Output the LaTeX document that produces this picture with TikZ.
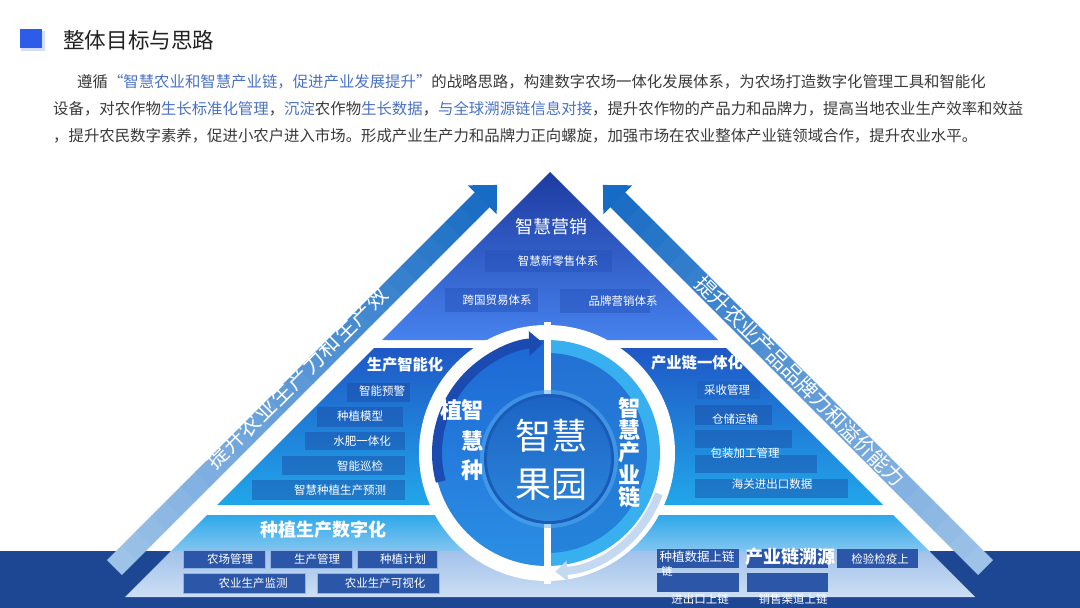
\documentclass[tikz,border=0pt]{standalone}
\usepackage{fontspec}
\setmainfont{Noto Sans CJK SC}
\usetikzlibrary{arrows.meta}
\definecolor{sq}{HTML}{2D5DE8}
\definecolor{ttl}{HTML}{222222}
\definecolor{para}{HTML}{3A3A3A}
\definecolor{lnk}{HTML}{4A72C4}
\definecolor{navy}{HTML}{1E4793}
\definecolor{topT}{HTML}{1D3BA0}
\definecolor{topB}{HTML}{4782EE}
\definecolor{midT}{HTML}{1F58C6}
\definecolor{midB}{HTML}{21A6EA}
\definecolor{botTa}{HTML}{2EA8EA}
\definecolor{botBa}{HTML}{84C6F0}
\definecolor{botTb}{HTML}{A2C1EA}
\definecolor{botBb}{HTML}{CCDFF4}
\definecolor{bandP}{HTML}{9EC3E8}
\definecolor{bandD}{HTML}{166BC4}
\definecolor{leftT}{HTML}{1D68D4}
\definecolor{leftB}{HTML}{2B8FE4}
\definecolor{cyanB}{HTML}{38B0F0}
\definecolor{rinT}{HTML}{2472D4}
\definecolor{rinB}{HTML}{2483DA}
\definecolor{arrD}{HTML}{1B4BB0}
\definecolor{paleA}{HTML}{C4D8F0}
\definecolor{icBord}{HTML}{1A5AB8}
\definecolor{icT}{HTML}{1D64C4}
\definecolor{icB}{HTML}{2B86DA}
\definecolor{icGlow}{HTML}{5AB0F0}
\definecolor{boxT}{HTML}{2450B8}
\definecolor{boxM}{HTML}{1B4AA4}
\definecolor{boxB}{HTML}{2C57A8}
\definecolor{boxBd}{HTML}{8FB3E3}
\newcommand{\fsz}[1]{\fontsize{#1pt}{#1pt}\selectfont}
\newcommand{\bandbody}{%
  \foreach \i in {0,...,24}{%
    \pgfmathsetmacro\ua{\i*20.82}%
    \pgfmathsetmacro\ub{\ua+21.5}%
    \pgfmathtruncatemacro\pc{\i*4}%
    \fill[bandD!\pc!bandP] (\ua,-10.5) rectangle (\ub,10.5);}%
  \fill[bandD] (520,-20.5) -- (541,0) -- (520,20.5) -- cycle;}
\tikzset{
  paraline/.style={anchor=west, inner sep=0pt, font=\fsz{15.4}, text=para},
  itm/.style={text=white, font=\fsz{11.5}, inner sep=0pt},
  sectb/.style={text=white, font=\bfseries\fsz{#1}, inner sep=0pt},
  sectr/.style={text=white, font=\fsz{#1}, inner sep=0pt},
  boxtop/.style={fill=boxT, fill opacity=0.45},
  boxmid/.style={fill=boxM, fill opacity=0.45},
  boxbot/.style={fill=boxB, draw=boxBd, line width=0.6pt},
  bandtxt/.style={text=white, inner sep=0pt}
}
\begin{document}
\begin{tikzpicture}[x=1pt,y=-1pt]
\useasboundingbox (0,0) rectangle (1080,608);
\fill[white] (0,0) rectangle (1080,608);

% title
\fill[sq!35, opacity=0.6] (21,31) rectangle (45,51);
\fill[sq] (20,29) rectangle (42,48);
\node[anchor=west, inner sep=0pt, font=\fsz{21.6}, text=ttl] (title) at (63,40) {整体目标与思路};

% paragraph
\node[paraline] (p1) at (77,82) {遵循\textcolor{lnk}{\makebox[1em][r]{“}智慧农业和智慧产业链，促进产业发展提升\makebox[1em][l]{”}}的战略思路，构建数字农场一体化发展体系，为农场打造数字化管理工具和智能化};
\node[paraline] (p2) at (53,109) {设备，对农作物\textcolor{lnk}{生长标准化管理}，\textcolor{lnk}{沉淀}农作物\textcolor{lnk}{生长数据}，\textcolor{lnk}{与全球溯源链信息对接}，提升农作物的产品力和品牌力，提高当地农业生产效率和效益};
\node[paraline] (p3) at (53,136) {，提升农民数字素养，促进小农户进入市场。形成产业生产力和品牌力正向螺旋，加强市场在农业整体产业链领域合作，提升农业水平。};

% navy band
\fill[navy] (0,551) rectangle (1080,608);

% arrow bands
\begin{scope}[shift={(114.5,567.5)}, rotate=45]
  \bandbody
\end{scope}
\begin{scope}[shift={(985.5,567.5)}, rotate=135]
  \bandbody
\end{scope}
\foreach \ch [count=\n from 0] in {提,升,农,业,生,产,力,和,生,产,效}
  \node[bandtxt, font=\fsz{21.5}, rotate=45] (lb\n) at ({297+(\n-5)*15.9},{378-(\n-5)*15.9}) {\ch};
\foreach \ch [count=\n from 0] in {提,升,农,业,产,品,品,牌,力,和,溢,价,能,力}
  \node[bandtxt, font=\fsz{20.5}, rotate=-45] (rb\n) at ({800+(\n-6.5)*14.5},{381+(\n-6.5)*14.5}) {\ch};

% pyramid sections
\shade[top color=topT, bottom color=topB] (550,172) -- (718,340) -- (382,340) -- cycle;
\shade[top color=midT, bottom color=midB] (374,348) -- (726,348) -- (883,505) -- (217,505) -- cycle;
\begin{scope}
  \clip (207,515) -- (893,515) -- (975,597) -- (125,597) -- cycle;
  \shade[top color=botTa, bottom color=botBa] (100,515) rectangle (1000,551.5);
  \shade[top color=botTb, bottom color=botBb] (100,551) rectangle (1000,597);
\end{scope}

% top section
\node[sectr=18] (smkt) at (551,227) {智慧营销};
\fill[boxtop] (485,250) rectangle (612,272);
\fill[boxtop] (445,288) rectangle (538,312);
\fill[boxtop] (560,289) rectangle (650,313);
\node[itm] (t1) at (558,261) {智慧新零售体系};
\node[itm] (t2) at (497,300) {跨国贸易体系};
\node[itm] (t3) at (623,301) {品牌营销体系};

% middle left
\node[sectb=15.3] (sprod) at (405,365) {生产智能化};
\fill[boxmid] (347,383) rectangle (410,402);
\fill[boxmid] (317,407) rectangle (403,427);
\fill[boxmid] (305,432) rectangle (405,450);
\fill[boxmid] (282,456) rectangle (405,475);
\fill[boxmid] (252,480) rectangle (405,500);
\node[itm] (m1) at (382,391) {智能预警};
\node[itm] (m2) at (360,416) {种植模型};
\node[itm] (m3) at (362,441) {水肥一体化};
\node[itm] (m4) at (360,466) {智能巡检};
\node[itm] (m5) at (340,490) {智慧种植生产预测};

% middle right
\node[sectb=15.3] (schain) at (697,363) {产业链一体化};
\fill[boxmid, fill opacity=0.2] (697,381) rectangle (760,399);
\fill[boxmid] (695,405) rectangle (772,425);
\fill[boxmid] (695,430) rectangle (792,448);
\fill[boxmid] (695,455) rectangle (817,473);
\fill[boxmid] (695,479) rectangle (848,498);
\node[itm] (r1) at (727,390) {采收管理};
\node[itm] (r2) at (735,419) {仓储运输};
\node[itm] (r3) at (745,453) {包装加工管理};
\node[itm] (r4) at (772,484) {海关进出口数据};

% bottom left
\node[sectb=18] (sdig) at (323,530) {种植生产数字化};
\fill[boxbot] (183,550) rectangle (265,568);
\fill[boxbot] (270,550) rectangle (352,568);
\fill[boxbot] (357,550) rectangle (437,568);
\fill[boxbot] (183,573) rectangle (305,593);
\fill[boxbot] (317,573) rectangle (439,593);
\node[itm] (b1) at (230,559) {农场管理};
\node[itm] (b2) at (317,559) {生产管理};
\node[itm] (b3) at (403,559) {种植计划};
\node[itm] (b4) at (253,583) {农业生产监测};
\node[itm] (b5) at (385,583) {农业生产可视化};

% bottom right
\fill[boxbot, draw=none] (657,549) rectangle (739,568);
\fill[boxbot, draw=none] (747,549) rectangle (828,568);
\fill[boxbot, draw=none] (837,549) rectangle (918,568);
\fill[boxbot, draw=none] (657,573) rectangle (739,592);
\fill[boxbot, draw=none] (747,573) rectangle (828,592);
\node[itm, font=\fsz{12.5}] (c1) at (697,557) {种植数据上链};
\node[itm, font=\fsz{11}] (c1b) at (667,571) {链};
\node[itm] (c3) at (880,559) {检验检疫上};
\node[itm] (c4) at (700,599) {进出口上链};
\node[itm] (c5) at (793,599) {销售渠道上链};
\node[sectb=18] (strace) at (790,557) {产业链溯源};

% central circle
\coordinate (C) at (547,453);
\fill[white] (C) circle[radius=128];
\shade[top color=leftT, bottom color=leftB] (547,340) arc[start angle=270, end angle=90, radius=113] -- cycle;
\fill[cyanB] (547,340) arc[start angle=-90, end angle=90, radius=113] -- cycle;
\shade[top color=rinT, bottom color=rinB] (547,353) arc[start angle=-90, end angle=90, radius=100] -- cycle;
\fill[white] (544,322) rectangle (551,584);
\draw[line width=10pt, draw=arrD, -{Triangle[length=14pt,width=24pt]}] ([shift={(165:110)}]C) arc[start angle=165, end angle=268, radius=110];
\draw[line width=8pt, draw=paleA, -{Triangle[length=12pt,width=20pt]}] ([shift={(20:119)}]C) arc[start angle=20, end angle=86, radius=119];
\fill[icGlow, opacity=0.5] (549,459) circle[radius=69];
\fill[icBord] (549,459) circle[radius=65];
\shade[top color=icT, bottom color=icB] (549,459) circle[radius=62];
\node[text=white, font=\fsz{36}, inner sep=0pt] (g1) at (551,436) {智慧};
\node[text=white, font=\fsz{36}, inner sep=0pt] (g2) at (551,485) {果园};
\node[sectb=22] (h0) at (451,410) {植};
\node[sectb=22] (h1) at (472,410) {智};
\node[sectb=22] (h2) at (472,441) {慧};
\node[sectb=22] (h3) at (472,470) {种};
\node[sectb=22] (k1) at (629,408) {智};
\node[sectb=22] (k2) at (629,430) {慧};
\node[sectb=22] (k3) at (629,452) {产};
\node[sectb=22] (k4) at (629,475) {业};
\node[sectb=22] (k5) at (629,497) {链};
\end{tikzpicture}
\end{document}
